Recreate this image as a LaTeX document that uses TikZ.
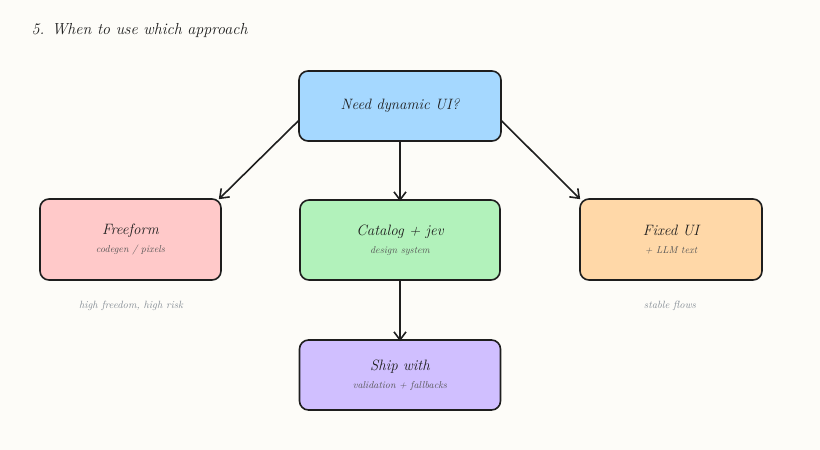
\documentclass[tikz,border=0pt]{standalone}
\usetikzlibrary{arrows.meta,calc}
\definecolor{bg}{HTML}{FDFCF8}
\definecolor{ink}{HTML}{1E1E1E}
\definecolor{cblue}{HTML}{A5D8FF}
\definecolor{cpink}{HTML}{FFC9C9}
\definecolor{cgreen}{HTML}{B2F2BB}
\definecolor{corange}{HTML}{FFD8A8}
\definecolor{cpurple}{HTML}{D0BFFF}
\definecolor{subtext}{HTML}{555555}
\definecolor{note}{HTML}{868E96}
\tikzset{
  box/.style={draw=ink, line width=1.6pt, rounded corners=9pt, align=center, inner sep=0pt},
  maintext/.style={font=\itshape\fontsize{15}{17}\selectfont, text=ink},
  conn/.style={draw=ink, line width=1.6pt, -{Straight Barb[length=8pt,width=12pt,line width=1.6pt]}},
  notetext/.style={font=\itshape\fontsize{10.5}{12}\selectfont, text=note}
}
\newcommand{\sub}[1]{\\[1pt]{\fontsize{10}{12}\selectfont\color{subtext}#1}}
\begin{document}
\begin{tikzpicture}[x=1pt,y=-1pt]
\fill[bg] (0,0) rectangle (820,450);
\useasboundingbox (0,0) rectangle (820,450);
\node[anchor=west, font=\itshape\fontsize{16}{18}\selectfont, text=ink] (title) at (28,30) {5. When to use which approach};
\node[box, fill=cblue, minimum width=202pt, minimum height=70pt, maintext] (top) at (400,106) {Need dynamic UI?};
\node[box, fill=cpink, minimum width=181pt, minimum height=81pt, maintext] (free) at (130.5,239.5) {Freeform\sub{codegen / pixels}};
\node[box, fill=cgreen, minimum width=200pt, minimum height=80pt, maintext] (cat) at (400,240) {Catalog + jev\sub{design system}};
\node[box, fill=corange, minimum width=182pt, minimum height=81pt, maintext] (fixed) at (671,239.5) {Fixed UI\sub{+ LLM text}};
\node[box, fill=cpurple, minimum width=201pt, minimum height=70pt, maintext] (ship) at (400,375) {Ship with\sub{validation + fallbacks}};
\node[notetext] (n1) at (131,306) {high freedom, high risk};
\node[notetext] (n2) at (670,306) {stable flows};
\draw[conn] ([xshift=1pt,yshift=-14pt]top.west) -- ([xshift=-3pt,yshift=-1pt]free.north east);
\draw[conn] ([xshift=-1pt,yshift=-14pt]top.east) -- ([xshift=1pt,yshift=-1pt]fixed.north west);
\draw[conn] (top.south) -- ([yshift=-2pt]top.south |- cat.north);
\draw[conn] (cat.south) -- ([yshift=-2pt]cat.south |- ship.north);
\end{tikzpicture}
\end{document}
